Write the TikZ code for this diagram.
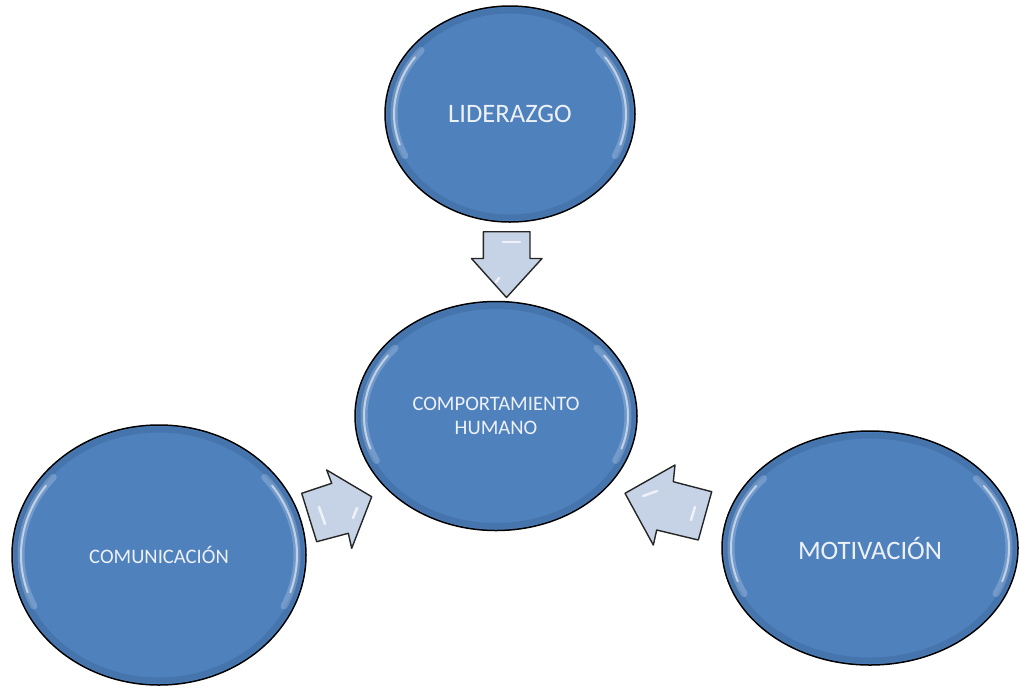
\documentclass[tikz,border=0pt]{standalone}
\usepackage{fontspec}
\setmainfont{Carlito}
\usetikzlibrary{shapes.geometric}
\definecolor{ellblue}{HTML}{4F81BD}
\definecolor{elledge}{HTML}{3C6699}
\definecolor{arrowfill}{HTML}{C6D3E7}
\definecolor{txt}{HTML}{EDF1F7}
\tikzset{
  bubble/.style={ellipse, draw=black, line width=1.5pt, fill=ellblue, inner sep=0pt,
    text=txt, align=center, font=\fontsize{20.6}{24.5}\selectfont},
  bigtext/.style={font=\fontsize{26.6}{30}\selectfont},
  blockarrow/.style={draw=black!85, line width=1.4pt, fill=arrowfill, line join=round},
  rim/.style={elledge, line width=6pt, opacity=0.45},
  glowsoft/.style={white, opacity=0.2, line width=7pt, line cap=round},
  glow/.style={white, opacity=0.55, line width=2pt, line cap=round},
  gloss/.style={white, opacity=0.7, line width=2.5pt, line cap=round},
}
\newcommand\bubblefx[3]{%
  \begin{scope}[shift={(#1.center)}]
    \draw[rim] (0,0) ellipse [x radius=#2-4.5, y radius=#3-4.5];
    \draw[glowsoft] (155:{#2-9} and {#3-9}) arc[start angle=155, end angle=220, x radius=#2-9, y radius=#3-9];
    \draw[glow] (162:{#2-9} and {#3-9}) arc[start angle=162, end angle=215, x radius=#2-9, y radius=#3-9];
    \draw[glowsoft] (-40:{#2-9} and {#3-9}) arc[start angle=-40, end angle=25, x radius=#2-9, y radius=#3-9];
    \draw[glow] (-35:{#2-9} and {#3-9}) arc[start angle=-35, end angle=18, x radius=#2-9, y radius=#3-9];
  \end{scope}}
\begin{document}
\begin{tikzpicture}[x=1pt,y=-1pt]
\useasboundingbox (0,0) rectangle (1019,686);
\fill[white] (0,0) rectangle (1019,686);

% ellipses
\node[bubble, bigtext, minimum width=250, minimum height=216] (lid) at (510,114) {LIDERAZGO};
\node[bubble, minimum width=282, minimum height=229] (comp) at (496,416) {COMPORTAMIENTO\\HUMANO};
\node[bubble, minimum width=294, minimum height=260] (comu) at (159,555) {COMUNICACIÓN};
\node[bubble, bigtext, minimum width=296, minimum height=234] (moti) at (870,548) {MOTIVACIÓN};
\bubblefx{lid}{125}{108}
\bubblefx{comp}{141}{114.5}
\bubblefx{comu}{147}{130}
\bubblefx{moti}{148}{117}

% block arrows
\draw[blockarrow] (483.3,231.7) -- (530,231.7) -- (530,258.5) -- (542,258.5)
  -- (506.5,297.5) -- (471.5,258.5) -- (483.3,258.5) -- cycle;
\draw[gloss] (503,242) -- (520,242);
\draw[gloss] (496,282) -- (499,278);

\draw[blockarrow] (301.7,493.3) -- (331.7,483.3) -- (326.7,470) -- (371.7,496.7)
  -- (351.7,548.3) -- (348.3,533.3) -- (316.7,541.7) -- cycle;
\draw[gloss] (319,507) -- (325,524);
\draw[gloss] (357,508) -- (353,518);

\draw[blockarrow] (625,493.3) -- (675,465) -- (673.3,481.7) -- (711.7,491.7)
  -- (698.3,540) -- (656.7,530) -- (653.3,545) -- cycle;
\draw[gloss] (643,496) -- (657,491);
\draw[gloss] (695,507) -- (691,520);
\end{tikzpicture}
\end{document}
